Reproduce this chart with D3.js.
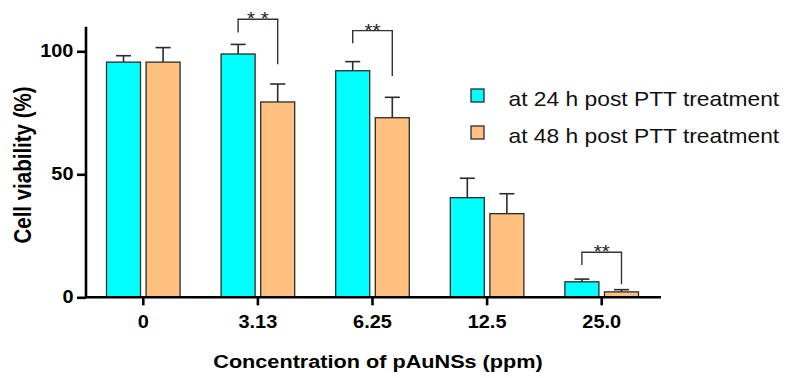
<!DOCTYPE html>
<html>
<head>
<meta charset="utf-8">
<script src="https://cdn.jsdelivr.net/npm/d3@7"></script>
<style>
  body { margin: 0; background: #fff; }
  svg { display: block; font-family: "Liberation Sans", Arial, sans-serif; }
</style>
</head>
<body>
<svg id="chart" width="790" height="378"></svg>
<script>
// data
const categories = ['0', '3.13', '6.25', '12.5', '25.0'];
const seriesNames = ['at 24 h post PTT treatment', 'at 48 h post PTT treatment'];
const mean24 = [95.6, 98.9, 92.1, 40.5, 6.3];
const sd24 = [2.6, 3.9, 3.7, 7.9, 1.1];
const mean48 = [95.6, 79.4, 73.0, 34.0, 2.2];
const sd48 = [5.9, 7.3, 8.3, 8.1, 0.9];
const yTicks = [0, 50, 100];

// significance brackets (values in % units)
const sigCategories = ['3.13', '6.25', '25.0'];
const sigTop = [113, 108.4, 18.3];
const sigLeftEnd = [107.6, 103.3, 13.1];
const sigRightEnd = [94.7, 90.0, 5.3];
const sigLabels = ['* *', '**', '**'];

const colors = ['#00ffff', '#ffc080'];
const edge = '#2b2b2b';
const sx = 1.14; // the original figure is a little stretched sideways

const svg = d3.select('#chart');

const x0 = d3.scaleBand().domain(categories).range([86, 659])
  .paddingInner(0.358).paddingOuter(0.179);
const x1 = d3.scaleBand().domain([0, 1]).range([0, x0.bandwidth()]).paddingInner(0.141);
const y = d3.scaleLinear().domain([0, 110]).range([297.3, 26.7]);

const rows = categories.map((c, i) => ({
  cat: c,
  vals: [
    { s: 0, mean: mean24[i], sd: sd24[i] },
    { s: 1, mean: mean48[i], sd: sd48[i] }
  ]
}));

const groups = svg.append('g').selectAll('g')
  .data(rows)
  .join('g')
  .attr('transform', d => 'translate(' + x0(d.cat) + ',0)');

// error bars first so the bar outline sits on top
const err = groups.selectAll('g.err')
  .data(d => d.vals)
  .join('g')
  .attr('class', 'err')
  .attr('stroke', edge)
  .attr('stroke-width', 1.6);

err.append('line')
  .attr('x1', d => x1(d.s) + x1.bandwidth() / 2)
  .attr('x2', d => x1(d.s) + x1.bandwidth() / 2)
  .attr('y1', d => y(d.mean))
  .attr('y2', d => y(d.mean + d.sd));

err.append('line')
  .attr('x1', d => x1(d.s) + x1.bandwidth() / 2 - 7.5)
  .attr('x2', d => x1(d.s) + x1.bandwidth() / 2 + 7.5)
  .attr('y1', d => y(d.mean + d.sd))
  .attr('y2', d => y(d.mean + d.sd));

groups.selectAll('rect')
  .data(d => d.vals)
  .join('rect')
  .attr('x', d => x1(d.s))
  .attr('width', x1.bandwidth())
  .attr('y', d => y(d.mean))
  .attr('height', d => y(0) - y(d.mean))
  .attr('fill', d => colors[d.s])
  .attr('stroke', edge)
  .attr('stroke-width', 1.3);

// axes
const yAxis = svg.append('g')
  .attr('transform', 'translate(86,0)')
  .call(d3.axisLeft(y).tickValues(yTicks).tickSize(9).tickSizeOuter(0).tickPadding(2));

const xAxis = svg.append('g')
  .attr('transform', 'translate(0,' + y(0) + ')')
  .call(d3.axisBottom(x0).tickSize(8).tickSizeOuter(0).tickPadding(10));

[yAxis, xAxis].forEach(a => {
  a.select('.domain').attr('stroke', '#000').attr('stroke-width', 2.6);
  a.selectAll('.tick line').attr('stroke', '#000').attr('stroke-width', 2.6);
  a.selectAll('.tick text')
    .attr('fill', '#000')
    .attr('font-size', 17.5)
    .attr('font-weight', 'bold')
    .attr('font-family', '"Liberation Sans", Arial, sans-serif')
    .attr('transform', 'scale(' + sx + ',1)');
});
yAxis.select('.domain').attr('d', 'M0,' + y(0) + 'V' + y(110));
xAxis.select('.domain').attr('d', 'M86,0H661');

// significance brackets
sigCategories.forEach((c, i) => {
  const xl = x0(c) + x1(0) + x1.bandwidth() / 2;
  const xr = x0(c) + x1(1) + x1.bandwidth() / 2;
  svg.append('path')
    .attr('d', 'M' + xl + ',' + y(sigLeftEnd[i]) + 'V' + y(sigTop[i]) + 'H' + xr + 'V' + y(sigRightEnd[i]))
    .attr('fill', 'none')
    .attr('stroke', '#333')
    .attr('stroke-width', 1.4);
  svg.append('text')
    .attr('transform', 'translate(' + ((xl + xr) / 2) + ',' + (y(sigTop[i]) + 6) + ') scale(' + sx + ',1)')
    .attr('text-anchor', 'middle')
    .attr('font-size', 18)
    .attr('fill', '#222')
    .text(sigLabels[i]);
});

// axis titles
svg.append('text')
  .attr('transform', 'translate(378,367.5) scale(' + sx + ',1)')
  .attr('text-anchor', 'middle')
  .attr('font-size', 19)
  .attr('font-weight', 'bold')
  .text('Concentration of pAuNSs (ppm)');

svg.append('text')
  .attr('transform', 'translate(31,165) scale(' + sx + ',1) rotate(-90)')
  .attr('text-anchor', 'middle')
  .attr('font-size', 20.5)
  .attr('font-weight', 'bold')
  .text('Cell viability (%)');

// legend
const legend = svg.append('g').selectAll('g')
  .data(seriesNames)
  .join('g')
  .attr('transform', (d, i) => 'translate(471,' + (89 + i * 37) + ')');

legend.append('rect')
  .attr('width', 13)
  .attr('height', 13)
  .attr('fill', (d, i) => colors[i])
  .attr('stroke', edge)
  .attr('stroke-width', 1.3);

legend.append('text')
  .attr('transform', 'translate(37.5,16.5) scale(' + sx + ',1)')
  .attr('font-size', 20)
  .attr('fill', '#111')
  .text(d => d);
</script>
</body>
</html>
